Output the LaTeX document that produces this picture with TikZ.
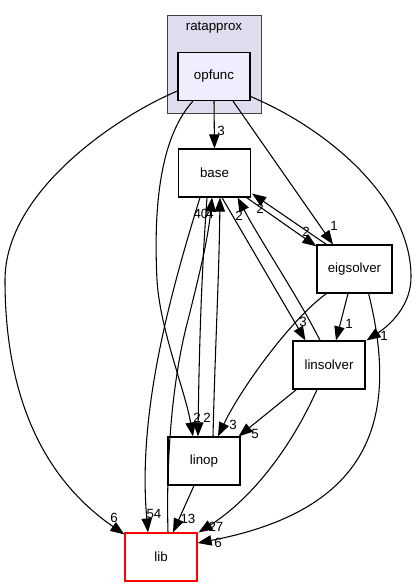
\documentclass[tikz,border=0pt]{standalone}
\usepackage{fontspec}
\setmainfont{Liberation Sans}
\usetikzlibrary{arrows.meta,calc}
\definecolor{clusterfill}{HTML}{DDDDEE}
\definecolor{curfill}{HTML}{EEEEFF}
\definecolor{clusterline}{HTML}{404040}
\begin{document}
\begin{tikzpicture}[x=0.75pt,y=-0.75pt,
  txt/.style={font=\fontsize{10}{12}\selectfont},
  dirbox/.style={txt,draw=black,line width=0.9pt,fill=white,minimum width=54pt,minimum height=36pt,inner sep=0pt},
  dep/.style={draw=black,line width=0.8pt,-{Triangle[length=10.5pt,width=7.8pt]}},
  lbl/.style={txt,inner sep=0pt}
]
\useasboundingbox (0,0) rectangle (416,587);
% cluster
\node[draw=clusterline,fill=clusterfill,line width=0.9pt,minimum width=70.5pt,minimum height=73.5pt,inner sep=0pt,anchor=north west] (cluster) at (167,15) {};
\node[lbl] (clusterlabel) at (214,28) {ratapprox};
% nodes
\node[dirbox,fill=curfill] (opfunc) at (214,76.5) {opfunc};
\node[dirbox] (base) at (214.5,173) {base};
\node[dirbox,minimum width=56.25pt] (eigsolver) at (354.5,269) {eigsolver};
\node[dirbox] (linsolver) at (329,365) {linsolver};
\node[dirbox] (linop) at (204,461) {linop};
\node[dirbox,draw=red] (lib) at (161,557) {lib};
% edges
\draw[dep] (opfunc.south) -- (base.north);
\node[lbl] (l1) at (221,131) {3};
\draw[dep] ($(opfunc.west)+(0,14.5)$) .. controls (120,115) and (5,190) .. (5,280) .. controls (5,420) and (60,490) .. ($(lib.north west)+(0,2)$);
\node[lbl] (l2) at (114,518) {6};
\draw[dep] ($(opfunc.south)+(-21,0)$) .. controls (162,135) and (153,200) .. (157,280) .. controls (160,330) and (185,390) .. ($(linop.north)+(-11,0)$);
\node[lbl] (l3) at (197,418) {2};
\draw[dep] ($(opfunc.south)+(19,0)$) -- ($(eigsolver.north)+(-21.5,0)$);
\node[lbl] (l4) at (334,226) {1};
\draw[dep] ($(opfunc.east)+(0,20)$) .. controls (330,130) and (410,200) .. (411,275) .. controls (412,305) and (390,325) .. ($(linsolver.north east)+(1,0)$);
\node[lbl] (l5) at (384,336) {1};
\draw[dep] ($(base.south east)+(-4.5,0)$) -- ($(eigsolver.north west)+(0,2)$);
\node[lbl] (l6) at (306,232) {2};
\draw[dep] ($(eigsolver.north west)+(10,0)$) -- ($(base.south east)+(1,-4)$);
\node[lbl] (l7) at (260,209) {2};
\draw[dep] ($(base.south)+(-7.5,0)$) .. controls (201,280) and (199,360) .. ($(linop.north)+(-6,0)$);
\node[lbl] (l8) at (207,418) {2};
\draw[dep] ($(lib.north)+(7,0)$) .. controls (166,460) and (172,380) .. (188,320) .. controls (198,280) and (208,240) .. ($(base.south)+(-2.5,0)$);
\node[lbl] (l9) at (201,214) {40};
\draw[dep] ($(linop.north)+(9,0)$) .. controls (215,350) and (219,280) .. ($(base.south)+(5.5,0)$);
\node[lbl] (l10) at (210,214) {4};
\draw[dep] ($(base.south)+(-14.5,0)$) .. controls (165,310) and (138,420) .. ($(lib.north)+(-13,0)$);
\node[lbl] (l11) at (154,514) {54};
\draw[dep] ($(base.south)+(7.5,0)$) -- ($(linsolver.north west)+(13,0)$);
\node[lbl] (l12) at (303,322) {3};
\draw[dep] ($(linsolver.north)+(-9,0)$) .. controls (300,300) and (260,240) .. ($(base.south east)+(-13.5,0)$);
\node[lbl] (l13) at (239,216) {2};
\draw[dep] ($(eigsolver.south)+(-6.5,0)$) -- ($(linsolver.north)+(7,0)$);
\node[lbl] (l14) at (349,324) {1};
\draw[dep] ($(eigsolver.south west)+(10,0)$) .. controls (290,320) and (240,390) .. ($(linop.north)+(14,0)$);
\node[lbl] (l15) at (233,425) {3};
\draw[dep] ($(eigsolver.south east)+(-24,0)$) .. controls (400,420) and (370,510) .. ($(lib.east)+(0,-14)$);
\node[lbl] (l16) at (218,543) {6};
\draw[dep] ($(linsolver.south west)+(4,0)$) -- ($(linop.north east)+(-2,0)$);
\node[lbl] (l17) at (255,434) {5};
\draw[dep] ($(linsolver.south)+(-12,0)$) .. controls (290,450) and (250,500) .. ($(lib.north east)+(1,0)$);
\node[lbl] (l18) at (216,527) {27};
\draw[dep] ($(linop.south)+(-10,0)$) -- ($(lib.north)+(12,0)$);
\node[lbl] (l19) at (188,519) {13};
\end{tikzpicture}
\end{document}
